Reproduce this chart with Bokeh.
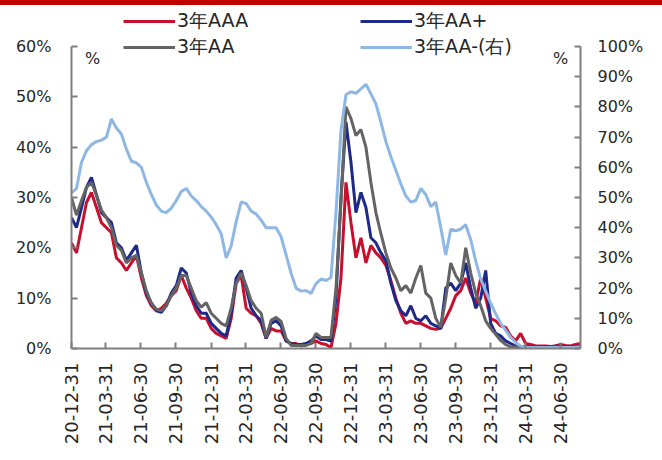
import math
import pandas as pd
from bokeh.plotting import figure
from bokeh.layouts import column
from bokeh.models import (Range1d, LinearAxis, FixedTicker, PrintfTickFormatter,
                          DatetimeTickFormatter, Legend, LegendItem, Label, Div)
from bokeh.embed import file_html
from bokeh.resources import INLINE

# ---------------- data (values in %) ----------------
start_date = "2020-12-31"
end_date = "2024-08-22"

aaa = [21, 19, 24, 29, 31, 28, 25, 24, 23, 18,
       17, 15.5, 17, 18.5, 14, 10.5, 8.5, 7.5, 8, 9,
       10.5, 11.5, 14.5, 12, 10, 7.5, 6, 6, 4, 3,
       2.5, 2, 6, 13, 14.5, 8, 7, 6.5, 5, 2,
       4, 3.5, 3.5, 1.5, 1, 1, 0.5, 0.8, 1, 1.5,
       1, 0.8, 0.2, 5, 14, 33, 25, 18, 22, 17,
       20.5, 19, 18, 16.5, 13.5, 10, 7, 5, 5.5, 5,
       5, 4.5, 4, 3.8, 4, 6, 8, 10.5, 11.5, 14,
       11, 9, 14, 10, 6, 5.5, 4.5, 4.2, 2.5, 1.5,
       3, 1, 0.8, 0.5, 0.5, 0.5, 0.4, 0.5, 0.8, 0.6,
       0.5, 0.8, 1]

aa_plus = [26, 24, 28, 32, 34, 30.5, 27, 26, 25, 21,
           20, 17.5, 19, 20.5, 15, 11, 9, 7.5, 7.2, 8.5,
           11, 12.5, 16, 15, 11, 8.5, 7, 7, 5, 4,
           3, 2.5, 7, 14, 15.5, 12, 8, 6.5, 5.5, 2,
           5, 5.5, 4.5, 1.5, 1, 0.8, 0.8, 1, 1.5, 2.5,
           1.8, 1.8, 1.5, 10, 30, 45, 37, 27, 31, 28,
           22, 21, 19, 17.5, 13, 9.5, 7.5, 6.5, 8.5, 6,
           5.5, 6.5, 5, 4.5, 4, 12, 13, 11.5, 13, 17,
           12, 8, 10, 15.5, 5, 3, 2.5, 1.5, 1, 0.5,
           0.4, 0.4, 0.3, 0.3, 0.3, 0.4, 0.3, 0.5, 0.3, 0.3,
           0.3, 0.4, 0.5]

aa = [30, 26.5, 29.4, 32, 33, 30.5, 27.5, 26, 24, 20.5,
      19.5, 17, 18, 18.5, 15, 11.5, 9, 7.8, 7.5, 8.5,
      10.5, 12, 14.5, 14.5, 12, 9.5, 8.2, 9.1, 7, 6,
      5, 4.5, 8, 13, 15, 12.5, 9.5, 8, 7, 2.2,
      5.6, 6.2, 5.4, 2, 0.6, 0.6, 0.6, 0.6, 1, 3,
      2.2, 2.2, 2.2, 12, 29, 48, 45.7, 42.3, 43.5, 40,
      33, 27, 22.8, 19, 16, 14, 11.5, 12.5, 11, 14,
      16.5, 11, 10, 6, 4.2, 10, 17, 14.5, 13, 20,
      15, 11, 8.5, 5.5, 4, 2.8, 1.6, 0.8, 0.3, 0.3,
      0.2, 0.2, 0.2, 0.2, 0.2, 0.2, 0.2, 0.3, 0.2, 0.2,
      0.2, 0.2, 0.3]

aa_minus = [51.5, 53, 61.6, 65.5, 67.5, 68.5, 69, 70, 76, 73,
            71, 66, 62, 61.5, 60, 55, 51, 47.5, 45.5, 45,
            46.5, 49, 52, 53, 50.5, 49, 47, 45.5, 43.5, 41,
            38, 30, 34, 42, 48.5, 48, 45.5, 44.5, 42.5, 40,
            40, 40, 37, 31, 25, 20, 19, 19.2, 18.2, 21.5,
            23, 22.5, 23.5, 45, 72, 84, 85, 84.5, 86, 87.5,
            84.3, 81, 75, 68.5, 63.5, 59, 54.5, 50.5, 48.5, 49,
            53, 51, 47, 48.5, 40, 31, 39.5, 39, 39.5, 41,
            36, 29, 23, 19, 15, 11.5, 8.3, 6, 3.7, 2,
            0.8, 0.4, 0.3, 0.3, 0.3, 0.3, 0.3, 0.3, 0.3, 0.3,
            0.3, 0.4, 0.5]

series_names = ["3年AAA", "3年AA+", "3年AA", "3年AA-(右)"]
series_colors = ["#C8102E", "#1F2A88", "#646464", "#8EB8E3"]

x_tick_labels = ["20-12-31", "21-03-31", "21-06-30", "21-09-30", "21-12-31",
                 "22-03-31", "22-06-30", "22-09-30", "22-12-31", "23-03-31",
                 "23-06-30", "23-09-30", "23-12-31", "24-03-31", "24-06-30"]
left_ticks = [0, 10, 20, 30, 40, 50, 60]
right_ticks = [0, 10, 20, 30, 40, 50, 60, 70, 80, 90, 100]

assert len(aaa) == len(aa_plus) == len(aa) == len(aa_minus)
dates = pd.date_range(start_date, end_date, periods=len(aaa))

# ---------------- layout constants ----------------
FONT = "DejaVu Sans"
TXT = "#262626"
AXC = "#7F7F7F"
FIG_H = 455            # figure height (a 5px red band sits above it)
BORDER_BOTTOM = 112
FRAME_H = FIG_H - BORDER_BOTTOM      # frame reaches the top of the figure
AXIS_PX = 302                        # pixel height of the 0..60 / 0..100 axes
left_top = left_ticks[-1] * FRAME_H / AXIS_PX
right_top = right_ticks[-1] * FRAME_H / AXIS_PX

p = figure(width=662, height=FIG_H, x_axis_type="datetime",
           output_backend="svg", toolbar_location=None,
           x_range=Range1d(pd.Timestamp(start_date), pd.Timestamp(end_date)),
           y_range=Range1d(0, left_top),
           min_border_left=71, min_border_right=82,
           min_border_top=0, min_border_bottom=BORDER_BOTTOM)
p.extra_y_ranges = {"right": Range1d(0, right_top)}
p.outline_line_color = None
p.xgrid.visible = False
p.ygrid.visible = False
p.background_fill_color = "white"
p.border_fill_color = "white"
p.margin = 0

r_aaa = p.line(dates, aaa, line_color=series_colors[0], line_width=3)
r_aap = p.line(dates, aa_plus, line_color=series_colors[1], line_width=3)
r_aa = p.line(dates, aa, line_color=series_colors[2], line_width=3)
r_aam = p.line(dates, aa_minus, line_color=series_colors[3], line_width=3,
               y_range_name="right")

right_axis = LinearAxis(y_range_name="right")
p.add_layout(right_axis, "right")


def style_axis(ax, size="16px"):
    ax.axis_line_color = AXC
    ax.axis_line_width = 2
    ax.major_tick_line_color = AXC
    ax.major_tick_line_width = 2
    ax.major_tick_in = 6
    ax.major_tick_out = 0
    ax.minor_tick_line_color = None
    ax.major_label_text_font = FONT
    ax.major_label_text_font_size = size
    ax.major_label_text_color = TXT


left_axis = p.yaxis[0]
style_axis(left_axis)
left_axis.ticker = FixedTicker(ticks=left_ticks)
left_axis.formatter = PrintfTickFormatter(format="%d%%")
left_axis.major_label_standoff = 20
left_axis.bounds = (left_ticks[0], left_ticks[-1])

style_axis(right_axis)
right_axis.ticker = FixedTicker(ticks=right_ticks)
right_axis.formatter = PrintfTickFormatter(format="%d%%")
right_axis.major_label_standoff = 17
right_axis.bounds = (right_ticks[0], right_ticks[-1])

x_axis = p.xaxis[0]
style_axis(x_axis, "18px")
tick_dates = [pd.to_datetime(s, format="%y-%m-%d") for s in x_tick_labels]
x_axis.ticker = FixedTicker(ticks=[d.timestamp() * 1000 for d in tick_dates])
x_axis.formatter = DatetimeTickFormatter(days="%y-%m-%d", months="%y-%m-%d",
                                         years="%y-%m-%d", hours="%y-%m-%d")
x_axis.major_label_orientation = math.pi / 2
x_axis.major_label_standoff = 14

# ---------------- legends ----------------
def make_legend(items, loc):
    lg = Legend(items=items, location=loc, orientation="vertical")
    lg.glyph_width = 52
    lg.glyph_height = 20
    lg.label_height = 20
    lg.label_standoff = 2
    lg.spacing = 0
    lg.padding = 0
    lg.margin = 0
    lg.border_line_color = None
    lg.background_fill_alpha = 0
    lg.label_text_font = FONT
    lg.label_text_font_size = "19px"
    lg.label_text_color = TXT
    return lg

leg1 = make_legend([LegendItem(label=series_names[0], renderers=[r_aaa]),
                    LegendItem(label=series_names[2], renderers=[r_aa])], (52, 288))
leg2 = make_legend([LegendItem(label=series_names[1], renderers=[r_aap]),
                    LegendItem(label=series_names[3], renderers=[r_aam])], (289, 288))
p.add_layout(leg1)
p.add_layout(leg2)

# unit marks
p.add_layout(Label(x=21, y=290, x_units="screen", y_units="screen", text="%",
                   text_font=FONT, text_font_size="16px", text_color=TXT,
                   text_baseline="middle", text_align="center"))
p.add_layout(Label(x=489, y=290, x_units="screen", y_units="screen", text="%",
                   text_font=FONT, text_font_size="16px", text_color=TXT,
                   text_baseline="middle", text_align="center"))

# red header band
band = Div(text="", width=662, height=5, margin=0,
           styles={"background-color": "#C00000"})

layout = column(band, p, spacing=0, margin=0)
open("out.html", "w").write(file_html(layout, INLINE))
